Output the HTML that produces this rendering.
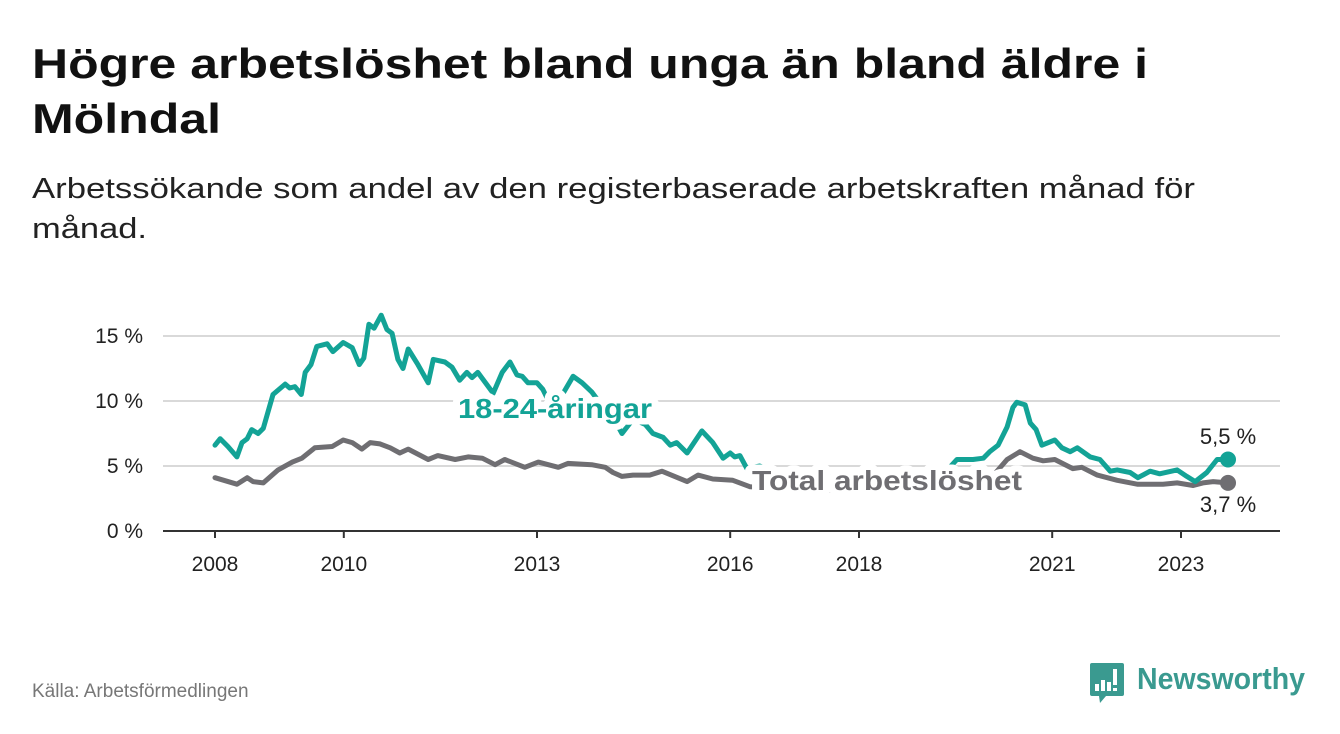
<!DOCTYPE html>
<html><head><meta charset="utf-8">
<style>
html,body{margin:0;padding:0;background:#fff;}
svg{display:block;font-family:"Liberation Sans",sans-serif;}
</style></head>
<body>
<svg id="chart" width="1340" height="734" viewBox="0 0 1340 734">
  <text x="32" y="78" font-size="42" font-weight="bold" fill="#111" textLength="1116" lengthAdjust="spacingAndGlyphs">Högre arbetslöshet bland unga än bland äldre i</text>
  <text x="32" y="133" font-size="42" font-weight="bold" fill="#111" textLength="189" lengthAdjust="spacingAndGlyphs">Mölndal</text>
  <text x="32" y="198" font-size="29" fill="#222" textLength="1163" lengthAdjust="spacingAndGlyphs">Arbetssökande som andel av den registerbaserade arbetskraften månad för</text>
  <text x="32" y="238" font-size="29" fill="#222" textLength="115" lengthAdjust="spacingAndGlyphs">månad.</text>
  <g id="grid"></g>
  <g id="yticks"></g>
  <g id="xticks"></g>
  <g id="lines"></g>
  <g id="labels"></g>
  <text x="32" y="697" font-size="19" fill="#777">Källa: Arbetsförmedlingen</text>
  <g>
    <path d="M1092 663 H1122 Q1124 663 1124 665 V694 Q1124 696 1122 696 H1106 L1100 703 L1099 696 H1092 Q1090 696 1090 694 V665 Q1090 663 1092 663 Z" fill="#3a9a90"/>
    <rect x="1095" y="684" width="4" height="7" fill="#fff"/>
    <rect x="1101" y="680" width="4" height="11" fill="#fff"/>
    <rect x="1107" y="682" width="4" height="9" fill="#fff"/>
    <rect x="1113" y="669" width="4" height="16" fill="#fff"/>
    <rect x="1113" y="688" width="4" height="3" fill="#fff"/>
    <text x="1137" y="689" font-size="31" font-weight="bold" fill="#3a9a90" textLength="168" lengthAdjust="spacingAndGlyphs">Newsworthy</text>
  </g>
</svg>
<script>
const yTicks = [0, 5, 10, 15];
const yTickLabels = ["0 %", "5 %", "10 %", "15 %"];
const xTicks = [2008, 2010, 2013, 2016, 2018, 2021, 2023];
const xTickLabels = ["2008", "2010", "2013", "2016", "2018", "2021", "2023"];
const youthDates = [2008.0,2008.08,2008.2,2008.34,2008.42,2008.5,2008.57,2008.67,2008.75,2008.9,2009.09,2009.16,2009.24,2009.34,2009.4,2009.49,2009.58,2009.74,2009.83,2009.99,2010.13,2010.24,2010.31,2010.39,2010.47,2010.58,2010.67,2010.75,2010.84,2010.92,2011.0,2011.15,2011.31,2011.39,2011.57,2011.68,2011.8,2011.91,2011.99,2012.08,2012.32,2012.46,2012.58,2012.69,2012.77,2012.86,2013.0,2013.09,2013.25,2013.43,2013.56,2013.7,2013.85,2014.06,2014.21,2014.32,2014.49,2014.68,2014.8,2014.96,2015.07,2015.17,2015.33,2015.56,2015.73,2015.89,2016.0,2016.07,2016.15,2016.26,2016.46,2016.93,2017.39,2017.78,2018.17,2018.64,2019.1,2019.3,2019.52,2019.77,2019.93,2020.03,2020.16,2020.3,2020.39,2020.45,2020.58,2020.66,2020.75,2020.84,2021.04,2021.15,2021.28,2021.39,2021.59,2021.74,2021.9,2022.01,2022.21,2022.33,2022.52,2022.67,2022.94,2023.09,2023.22,2023.4,2023.56,2023.73];
const youthValues = [6.6,7.1,6.5,5.7,6.8,7.1,7.8,7.5,7.9,10.5,11.3,11.0,11.1,10.5,12.2,12.8,14.2,14.4,13.8,14.5,14.1,12.8,13.3,15.9,15.6,16.6,15.5,15.2,13.2,12.5,14.0,12.8,11.4,13.2,13.0,12.6,11.6,12.2,11.8,12.2,10.6,12.2,13.0,12.0,11.9,11.4,11.4,10.9,9.3,10.8,11.9,11.4,10.7,9.3,8.5,7.5,8.6,8.2,7.5,7.2,6.6,6.8,6.0,7.7,6.8,5.6,6.0,5.7,5.8,4.8,5.0,4.0,3.9,4.5,4.0,3.8,4.0,4.3,5.5,5.5,5.6,6.1,6.6,8.0,9.5,9.9,9.7,8.3,7.8,6.6,7.0,6.4,6.1,6.4,5.7,5.5,4.6,4.7,4.5,4.1,4.6,4.4,4.7,4.2,3.8,4.5,5.5,5.5];
const totalDates = [2008.0,2008.34,2008.5,2008.59,2008.75,2008.98,2009.2,2009.35,2009.55,2009.82,2009.99,2010.13,2010.28,2010.41,2010.56,2010.72,2010.87,2011.0,2011.31,2011.46,2011.73,2011.93,2012.15,2012.35,2012.5,2012.81,2013.02,2013.33,2013.48,2013.85,2014.06,2014.18,2014.32,2014.49,2014.75,2014.94,2015.33,2015.5,2015.73,2016.04,2016.31,2017.08,2017.86,2018.64,2019.41,2019.95,2020.3,2020.5,2020.7,2020.86,2021.04,2021.32,2021.46,2021.7,2022.01,2022.32,2022.72,2022.94,2023.19,2023.34,2023.5,2023.73];
const totalValues = [4.1,3.6,4.1,3.8,3.7,4.7,5.3,5.6,6.4,6.5,7.0,6.8,6.3,6.8,6.7,6.4,6.0,6.3,5.5,5.8,5.5,5.7,5.6,5.1,5.5,4.9,5.3,4.9,5.2,5.1,4.9,4.5,4.2,4.3,4.3,4.6,3.8,4.3,4.0,3.9,3.4,3.2,3.1,3.1,3.2,3.5,5.5,6.1,5.6,5.4,5.5,4.8,4.9,4.3,3.9,3.6,3.6,3.7,3.5,3.7,3.8,3.7];
const youthLast = "5,5 %";
const totalLast = "3,7 %";

const NS = "http://www.w3.org/2000/svg";
const X0 = 2008, XPX0 = 215, PXY = 64.4;
const Y0PX = 531, PXPCT = 13;
function xs(t){ return XPX0 + (t - X0) * PXY; }
function ys(v){ return Y0PX - v * PXPCT; }
function mk(tag, attrs, parent){ const e = document.createElementNS(NS, tag); for (const k in attrs) e.setAttribute(k, attrs[k]); parent.appendChild(e); return e; }

const grid = document.getElementById('grid');
const yt = document.getElementById('yticks');
yTicks.forEach((v, i) => {
  if (v > 0) {
    const g = mk('line', {x1:163, x2:1280, y1:ys(v), y2:ys(v), stroke:'#d9d9d9', 'stroke-width':2}, grid);
    
    
  }
  const t = mk('text', {x:143, y:ys(v)+7, 'text-anchor':'end', 'font-size':21, fill:'#222'}, yt);
  t.textContent = yTickLabels[i];
  
  
});
const xt = document.getElementById('xticks');
const axis = mk('line', {x1:163, x2:1280, y1:Y0PX, y2:Y0PX, stroke:'#333', 'stroke-width':2}, xt);


xTicks.forEach((yr, i) => {
  const tk = mk('line', {x1:xs(yr), x2:xs(yr), y1:Y0PX, y2:Y0PX+7, stroke:'#333', 'stroke-width':2}, xt);
  
  
  const t = mk('text', {x:xs(yr), y:571, 'text-anchor':'middle', 'font-size':21, fill:'#222'}, xt);
  t.textContent = xTickLabels[i];
  
  
});

const lines = document.getElementById('lines');
function path(dates, vals){ return dates.map((d,i)=>(i?'L':'M')+xs(d).toFixed(1)+' '+ys(vals[i]).toFixed(1)).join(' '); }
const pt = mk('path', {d:path(totalDates,totalValues), fill:'none', stroke:'#6f6e72', 'stroke-width':5, 'stroke-linejoin':'round', 'stroke-linecap':'round'}, lines);


const py = mk('path', {d:path(youthDates,youthValues), fill:'none', stroke:'#13a396', 'stroke-width':5, 'stroke-linejoin':'round', 'stroke-linecap':'round'}, lines);


const dt = mk('circle', {cx:xs(totalDates[totalDates.length-1]), cy:ys(totalValues[totalValues.length-1]), r:8, fill:'#6f6e72'}, lines);


const dy = mk('circle', {cx:xs(youthDates[youthDates.length-1]), cy:ys(youthValues[youthValues.length-1]), r:8, fill:'#13a396'}, lines);



const lab = document.getElementById('labels');
function halo(x, y, txt, color, len){
  const t = mk('text', {x:x, y:y, 'font-size':28, 'font-weight':'bold', fill:color, stroke:'#fff', 'stroke-width':13, 'stroke-linejoin':'round', 'paint-order':'stroke', textLength:len, lengthAdjust:'spacingAndGlyphs'}, lab);
  t.textContent = txt;
  return t;
}
const l1 = halo(458, 418, '18-24-åringar', '#13a396', 194);


const l2 = halo(752, 490, 'Total arbetslöshet', '#6f6e72', 270);


const e1 = mk('text', {x:xs(youthDates[youthDates.length-1]), y:444, 'text-anchor':'middle', 'font-size':22, fill:'#222'}, lab);
e1.textContent = youthLast;


const e2 = mk('text', {x:xs(totalDates[totalDates.length-1]), y:512, 'text-anchor':'middle', 'font-size':22, fill:'#222'}, lab);
e2.textContent = totalLast;


</script>
</body></html>
